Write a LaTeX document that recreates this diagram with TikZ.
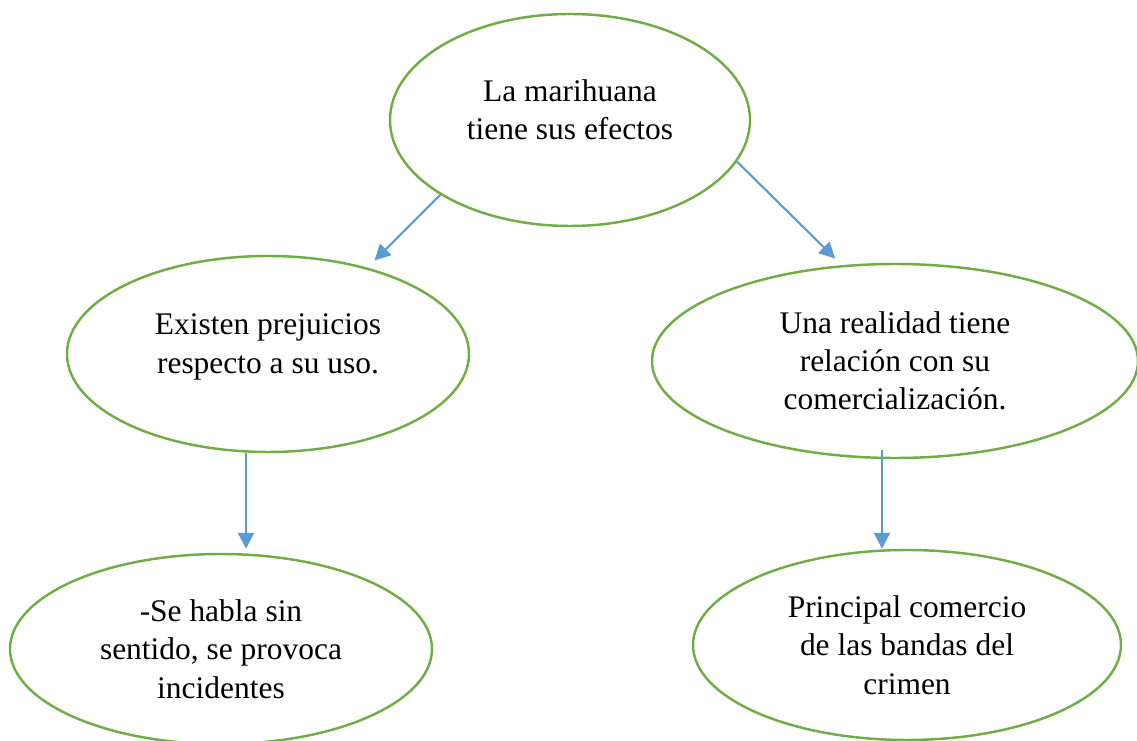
\documentclass[tikz,border=0pt]{standalone}
\usepackage{fontspec}
\setmainfont{Liberation Serif}
\usetikzlibrary{arrows.meta,calc,positioning,shapes.geometric}
\definecolor{leafgreen}{HTML}{70AD47}
\definecolor{skyblue}{HTML}{5B9BD5}
\tikzset{%
	oval/.style  = {draw=leafgreen, line width=1.4pt, ellipse, inner sep=0pt},
	txt/.style   = {align=center, font=\fontsize{17.9}{21.8}\selectfont},
	arrow/.style = {draw=skyblue, line width=1.2pt, -{Triangle[length=9pt,width=9pt]}},
}
\begin{document}
\begin{tikzpicture}
	\useasboundingbox (0,0) rectangle (22.74,-14.82);
	
	\node[oval, minimum width=7.2cm, minimum height=4.24cm] (top) at (11.4,-2.4) {};
	\node[txt] (top-t) at ([yshift=0.2cm]top.center) {La marihuana\\tiene sus efectos};
	
	\node[oval, minimum width=8.04cm, minimum height=3.92cm] (exist) at (5.36,-7.08) {};
	\node[txt] (exist-t) at ([yshift=0.14cm]exist.center) {Existen prejuicios\\respecto a su uso.};
	
	\node[oval, minimum width=9.72cm, minimum height=3.88cm] (real) at (17.9,-7.22) {};
	\node[txt] (real-t) at (real.center) {Una realidad tiene\\relación con su\\comercialización.};
	
	\node[oval, minimum width=8.44cm, minimum height=3.8cm] (habla) at (4.42,-12.98) {};
	\node[txt] (habla-t) at (habla.center) {-Se habla sin\\sentido, se provoca\\incidentes};
	
	\node[oval, minimum width=8.56cm, minimum height=3.8cm] (crimen) at (18.14,-12.9) {};
	\node[txt] (crimen-t) at (crimen.center) {Principal comercio\\de las bandas del\\crimen};
	
	% start points of the two vertical arrows
	\coordinate (exist-s) at ([xshift=-0.44cm]exist.south);
	\coordinate (real-s) at ([xshift=-0.26cm,yshift=0.18cm]real.south);
	
	\draw[arrow, shorten >=0.2cm] (top.210) -- (exist.41);
	\draw[arrow, shorten >=0.19cm] (top.346) -- (real.119);
	\draw[arrow, shorten >=0.08cm] (exist-s) -- (exist-s |- habla.north);
	\draw[arrow] (real-s) -- (real-s |- crimen.north);
\end{tikzpicture}
\end{document}
